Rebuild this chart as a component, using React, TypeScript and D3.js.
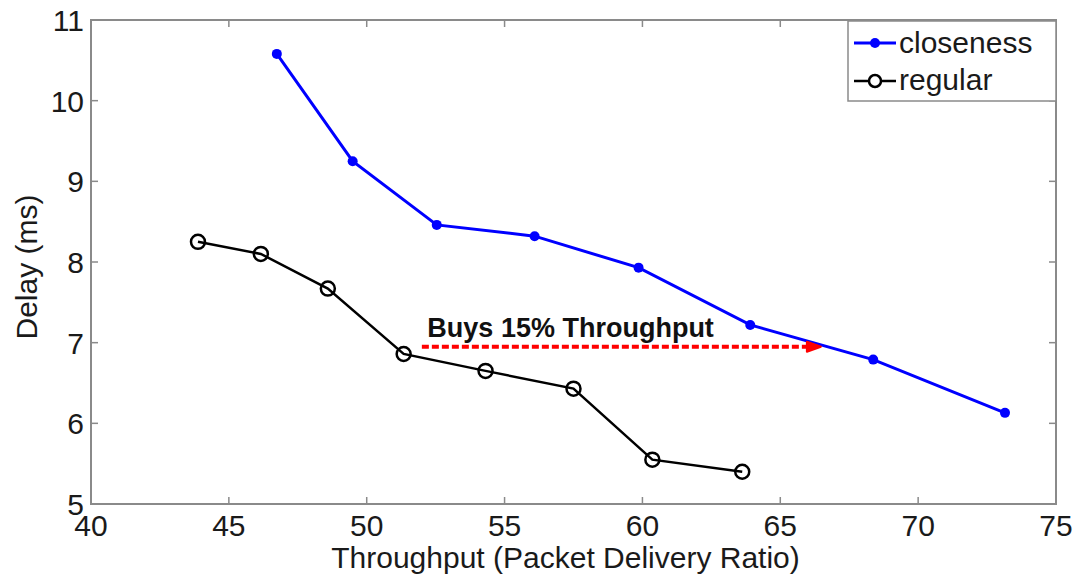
import React from "react";
import * as d3 from "d3";

const closenessX = [46.74, 49.49, 52.54, 56.09, 59.86, 63.91, 68.37, 73.15];
const closenessY = [10.58, 9.25, 8.46, 8.32, 7.93, 7.22, 6.79, 6.13];
const regularX = [43.88, 46.16, 48.59, 51.34, 54.31, 57.5, 60.36, 63.62];
const regularY = [8.25, 8.1, 7.67, 6.86, 6.65, 6.43, 5.55, 5.4];
const xTicks = [40, 45, 50, 55, 60, 65, 70, 75];
const yTicks = [5, 6, 7, 8, 9, 10, 11];
const arrowFrom = [52, 6.95];
const arrowTo = [66.4, 6.95];
const annotation = "Buys 15% Throughput";
const seriesNames = ["closeness", "regular"];

const W = 1080, H = 579;
const L = 91, R = 1056, T = 20, B = 504;
const FONT = "'Liberation Sans', Arial, Helvetica, sans-serif";

export default function App() {
  const x = d3.scaleLinear().domain([40, 75]).range([L, R]);
  const y = d3.scaleLinear().domain([5, 11]).range([B, T]);
  const line = d3.line<[number, number]>().x(d => x(d[0])).y(d => y(d[1]));
  const cPts: [number, number][] = closenessX.map((v, i) => [v, closenessY[i]]);
  const rPts: [number, number][] = regularX.map((v, i) => [v, regularY[i]]);
  const axisColor = "#8a8a8a";
  const tl = 7;
  const ax1 = x(arrowFrom[0]), ax2 = x(arrowTo[0]), ay = y(arrowFrom[1]);
  return (
    <svg width={W} height={H} style={{ position: "absolute", left: 0, top: 0, background: "#fff" }} fontFamily={FONT}>
      <rect x={0} y={0} width={W} height={H} fill="#fff" />
      <rect x={L} y={T} width={R - L} height={B - T} fill="none" stroke={axisColor} strokeWidth={2} />
      {xTicks.map(t => (
        <g key={"x" + t}>
          <line x1={x(t)} x2={x(t)} y1={B} y2={B - tl} stroke={axisColor} strokeWidth={1.5} />
          <line x1={x(t)} x2={x(t)} y1={T} y2={T + tl} stroke={axisColor} strokeWidth={1.5} />
          <text x={x(t)} y={B + 32} textAnchor="middle" fontSize={30} fill="#1a1a1a">{t}</text>
        </g>
      ))}
      {yTicks.map(t => (
        <g key={"y" + t}>
          <line x1={L} x2={L + tl} y1={y(t)} y2={y(t)} stroke={axisColor} strokeWidth={1.5} />
          <line x1={R} x2={R - tl} y1={y(t)} y2={y(t)} stroke={axisColor} strokeWidth={1.5} />
          <text x={L - 7} y={y(t) + 11} textAnchor="end" fontSize={30} fill="#1a1a1a">{t}</text>
        </g>
      ))}
      <text x={(L + R) / 2 - 8} y={568} textAnchor="middle" fontSize={30} fill="#1a1a1a">Throughput (Packet Delivery Ratio)</text>
      <text transform={`translate(37,${(T + B) / 2 + 5}) rotate(-90)`} textAnchor="middle" fontSize={30} fill="#1a1a1a">Delay (ms)</text>

      <path d={line(cPts) || ""} fill="none" stroke="#0000ff" strokeWidth={3} />
      {cPts.map((p, i) => <circle key={"c" + i} cx={x(p[0])} cy={y(p[1])} r={5} fill="#0000ff" />)}

      <path d={line(rPts) || ""} fill="none" stroke="#000" strokeWidth={2.5} />
      {rPts.map((p, i) => <circle key={"r" + i} cx={x(p[0])} cy={y(p[1])} r={7} fill="none" stroke="#000" strokeWidth={2.5} />)}

      <line x1={ax1} x2={ax2 - 10} y1={ay} y2={ay} stroke="#ff0000" strokeWidth={4} strokeDasharray="7,3" />
      <path d={`M${ax2 - 12},${ay - 5} L${ax2 + 2},${ay} L${ax2 - 12},${ay + 5} Z`} fill="#ff0000" stroke="#ff0000" strokeWidth={2} strokeLinejoin="round" />
      <text x={x(52.2)} y={ay - 10} fontSize={27} fontWeight="bold" fill="#111">{annotation}</text>

      <rect x={848} y={21} width={R - 848} height={80} fill="#fff" stroke={axisColor} strokeWidth={1.5} />
      <line x1={854} x2={896} y1={43} y2={43} stroke="#0000ff" strokeWidth={3} />
      <circle cx={875} cy={43} r={5} fill="#0000ff" />
      <text x={899} y={53} fontSize={30} fill="#1a1a1a">{seriesNames[0]}</text>
      <line x1={854} x2={896} y1={81} y2={81} stroke="#000" strokeWidth={2.5} />
      <circle cx={875} cy={81} r={6} fill="#fff" stroke="#000" strokeWidth={2.5} />
      <text x={899} y={90} fontSize={30} fill="#1a1a1a">{seriesNames[1]}</text>
    </svg>
  );
}
